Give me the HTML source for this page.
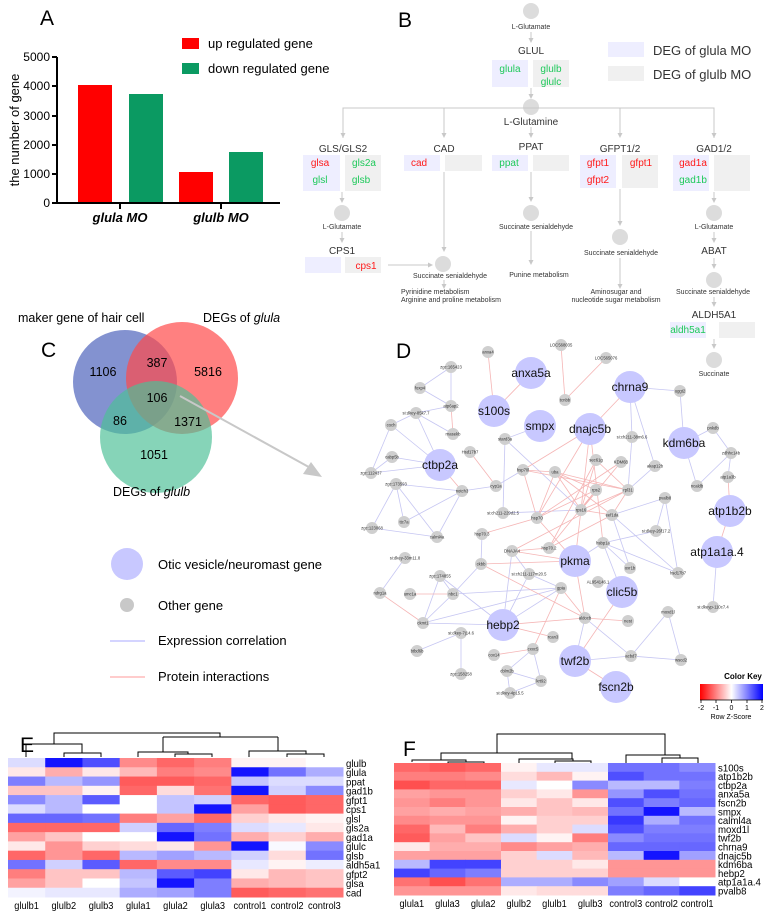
<!DOCTYPE html>
<html><head><meta charset="utf-8">
<style>
html,body{margin:0;padding:0;background:#fff;}
svg{display:block;font-family:"Liberation Sans",Arial,sans-serif;}
</style></head>
<body>
<svg id="s" width="770" height="917" viewBox="0 0 770 917" xmlns="http://www.w3.org/2000/svg">
<defs>
<marker id="ah" markerWidth="6" markerHeight="6" refX="5" refY="3" orient="auto"><path d="M0,0 L6,3 L0,6 z" fill="#c8c8c8"/></marker>
<marker id="ah2" markerWidth="5" markerHeight="5" refX="4" refY="2.5" orient="auto"><path d="M0,0 L5,2.5 L0,5 z" fill="#c8c8c8"/></marker>
<linearGradient id="ck" x1="0" x2="1"><stop offset="0" stop-color="#ff0000"/><stop offset="0.5" stop-color="#ffffff"/><stop offset="1" stop-color="#0000ff"/></linearGradient>
</defs>

<!-- Panel A -->
<text x="40" y="25" font-size="21">A</text>
<rect x="182" y="38" width="17" height="11" fill="#ff0000"/>
<text x="208" y="48" font-size="13">up regulated gene</text>
<rect x="182" y="63" width="17" height="11" fill="#0b9a62"/>
<text x="208" y="73" font-size="13">down regulated gene</text>
<g stroke="#000" stroke-width="2">
<line x1="57" y1="57" x2="57" y2="204"/>
<line x1="56" y1="203" x2="280" y2="203"/>
<line x1="52" y1="57" x2="57" y2="57"/><line x1="52" y1="86" x2="57" y2="86"/><line x1="52" y1="116" x2="57" y2="116"/><line x1="52" y1="145" x2="57" y2="145"/><line x1="52" y1="174" x2="57" y2="174"/><line x1="52" y1="203" x2="57" y2="203"/>
<line x1="120" y1="203" x2="120" y2="209"/><line x1="221" y1="203" x2="221" y2="209"/>
</g>
<g font-size="12" text-anchor="end">
<text x="50" y="61">5000</text><text x="50" y="90">4000</text><text x="50" y="120">3000</text><text x="50" y="149">2000</text><text x="50" y="178">1000</text><text x="50" y="207">0</text>
</g>
<text transform="translate(19,130) rotate(-90)" font-size="13" text-anchor="middle">the number of gene</text>
<rect x="78" y="85" width="34" height="117" fill="#ff0000"/>
<rect x="129" y="94" width="34" height="108" fill="#0b9a62"/>
<rect x="179" y="172" width="34" height="30" fill="#ff0000"/>
<rect x="229" y="152" width="34" height="50" fill="#0b9a62"/>
<text x="120" y="222" font-size="13" font-style="italic" font-weight="bold" text-anchor="middle">glula MO</text>
<text x="221" y="222" font-size="13" font-style="italic" font-weight="bold" text-anchor="middle">glulb MO</text>

<!-- Panel B -->
<text x="398" y="27" font-size="21">B</text>
<g id="pb"></g>

<!-- Panel C -->
<text x="18" y="322" font-size="12.5">maker gene of hair cell</text>
<text x="203" y="322" font-size="12.5">DEGs of <tspan font-style="italic">glula</tspan></text>
<text x="41" y="357" font-size="21">C</text>
<circle cx="125" cy="382" r="52" fill="#5a6ec0" fill-opacity="0.75"/>
<circle cx="182" cy="378" r="56" fill="#ff4a4a" fill-opacity="0.7"/>
<circle cx="156" cy="437" r="56" fill="#4cbf96" fill-opacity="0.68"/>
<g font-size="12.5" text-anchor="middle">
<text x="103" y="376">1106</text><text x="157" y="367">387</text><text x="208" y="376">5816</text>
<text x="157" y="402">106</text><text x="120" y="425">86</text><text x="188" y="426">1371</text><text x="154" y="459">1051</text>
</g>
<text x="113" y="496" font-size="12.5">DEGs of <tspan font-style="italic">glulb</tspan></text>
<line x1="180" y1="396" x2="316" y2="471" stroke="#c8c8c8" stroke-width="2"/>
<path d="M303,474 L322,477 L311,462 z" fill="#c8c8c8"/>
<circle cx="127" cy="564" r="16" fill="#c8c8ff"/>
<text x="158" y="569" font-size="13">Otic vesicle/neuromast gene</text>
<circle cx="127" cy="605" r="7" fill="#c8c8c8"/>
<text x="158" y="610" font-size="13">Other gene</text>
<line x1="110" y1="641" x2="145" y2="641" stroke="#a8a8ff" stroke-width="1"/>
<text x="158" y="645" font-size="13">Expression correlation</text>
<line x1="110" y1="677" x2="145" y2="677" stroke="#ff9a9a" stroke-width="1"/>
<text x="158" y="681" font-size="13">Protein interactions</text>

<!-- Panel D -->
<text x="396" y="358" font-size="21">D</text>
<g id="net"></g>
<text x="743" y="679" font-size="8" font-weight="bold" text-anchor="middle">Color Key</text>
<rect x="700" y="684" width="63" height="16" fill="url(#ck)"/>
<g stroke="#000" stroke-width="0.8"><line x1="700" y1="700" x2="763" y2="700"/><line x1="701" y1="700" x2="701" y2="703"/><line x1="716" y1="700" x2="716" y2="703"/><line x1="731.5" y1="700" x2="731.5" y2="703"/><line x1="747" y1="700" x2="747" y2="703"/><line x1="762" y1="700" x2="762" y2="703"/></g>
<g font-size="7" text-anchor="middle"><text x="701" y="710">-2</text><text x="716" y="710">-1</text><text x="731.5" y="710">0</text><text x="747" y="710">1</text><text x="762" y="710">2</text></g>
<text x="731" y="719" font-size="7" text-anchor="middle">Row Z-Score</text>

<!-- Panel E / F -->
<text x="20" y="752" font-size="21">E</text>
<text x="403" y="756" font-size="21">F</text>
<g id="hm"></g>
</svg>
<script>
var NS="http://www.w3.org/2000/svg";
function el(p,t,a,txt){var e=document.createElementNS(NS,t);for(var k in a)e.setAttribute(k,a[k]);if(txt!=null)e.textContent=txt;p.appendChild(e);return e;}
var pb=document.getElementById('pb');
var G="#1ec95a",R="#ff1a1a",BL="#eeeeff",GR="#f0f0f0",LC="#c8c8c8";
function circ(x,y,r){el(pb,'circle',{cx:x,cy:y,r:r||8,fill:"#dcdcdc"});}
function t(x,y,s,sz,col,anc){el(pb,'text',{x:x,y:y,'font-size':sz,fill:col||"#333",'text-anchor':anc||'middle'},s);}
function arr(x,y1,y2){el(pb,'line',{x1:x,y1:y1,x2:x,y2:y2,stroke:LC,'stroke-width':1,'marker-end':'url(#ah2)'});}
function bx(x,y,w,h,c){el(pb,'rect',{x:x,y:y,width:w,height:h,fill:c});}
circ(531,11);t(531,29,"L-Glutamate",7);arr(531,32,42);t(531,54,"GLUL",10);
bx(492,60,36,27,BL);bx(533,60,36,27,GR);t(510,72,"glula",10,G);t(551,72,"glulb",10,G);t(551,85,"glulc",10,G);
arr(531,88,98);
bx(608,42,36,15,BL);bx(608,66,36,15,GR);t(653,55,"DEG of glula MO",13,"#333","start");t(653,79,"DEG of glulb MO",13,"#333","start");
circ(531,107);t(531,125,"L-Glutamine",10);
el(pb,'polyline',{points:"343,138 343,108 714,108 714,138",fill:"none",stroke:LC,'stroke-width':1});
[[343],[444],[620]].forEach(function(a){arr(a[0],108,137);});arr(714,108,137);arr(531,127,137);
t(343,152,"GLS/GLS2",10);t(444,152,"CAD",10);t(531,150,"PPAT",10);t(620,152,"GFPT1/2",10);t(714,152,"GAD1/2",10);
bx(303,155,37,36,BL);bx(345,155,36,36,GR);t(320,166,"glsa",10,R);t(320,183,"glsl",10,G);t(364,166,"gls2a",10,G);t(361,183,"glsb",10,G);
bx(404,155,36,16,BL);bx(445,155,37,16,GR);t(419,166,"cad",10,R);
bx(492,155,36,16,BL);bx(533,155,36,16,GR);t(509,166,"ppat",10,G);
bx(580,155,36,33,BL);bx(622,155,36,33,GR);t(598,166,"gfpt1",10,R);t(598,183,"gfpt2",10,R);t(641,166,"gfpt1",10,R);
bx(673,155,36,36,BL);bx(714,155,36,36,GR);t(693,166,"gad1a",10,R);t(693,183,"gad1b",10,G);
arr(342,192,202);circ(342,213);t(342,229,"L-Glutamate",7);arr(342,232,242);t(342,254,"CPS1",10);
bx(305,257,36,16,BL);bx(345,257,36,16,GR);t(366,269,"cps1",10,R);
el(pb,'line',{x1:388,y1:265,x2:432,y2:265,stroke:LC,'stroke-width':1,'marker-end':'url(#ah2)'});
el(pb,'line',{x1:444,y1:172,x2:444,y2:251,stroke:LC,'stroke-width':1,'marker-end':'url(#ah2)'});
circ(443,264);t(450,278,"Succinate senialdehyde",7);arr(444,280,288);
t(401,294,"Pyrinidine metabolism",7,"#333","start");t(401,302,"Arginine and proline metabolism",7,"#333","start");
el(pb,'line',{x1:531,y1:172,x2:531,y2:201,stroke:LC,'stroke-width':1,'marker-end':'url(#ah2)'});
circ(531,213);t(536,229,"Succinate senialdehyde",7);
el(pb,'line',{x1:531,y1:231,x2:531,y2:264,stroke:LC,'stroke-width':1,'marker-end':'url(#ah2)'});
t(539,277,"Punine metabolism",7);
el(pb,'line',{x1:620,y1:189,x2:620,y2:225,stroke:LC,'stroke-width':1,'marker-end':'url(#ah2)'});
circ(620,237);t(621,255,"Succinate senialdehyde",7);
el(pb,'line',{x1:620,y1:258,x2:620,y2:288,stroke:LC,'stroke-width':1,'marker-end':'url(#ah2)'});
t(616,294,"Aminosugar   and",7);t(616,302,"nucleotide sugar metabolism",7);
arr(714,192,202);circ(714,213);t(714,229,"L-Glutamate",7);arr(714,232,242);t(714,254,"ABAT",10);arr(714,258,268);
circ(714,280);t(713,294,"Succinate senialdehyde",7);arr(714,297,306);t(714,318,"ALDH5A1",10);
bx(670,322,36,16,BL);bx(719,322,36,16,GR);t(688,333,"aldh5a1",10,G);
arr(714,339,348);circ(714,360);t(714,376,"Succinate",7);

var net=document.getElementById('net');
var N={
"anxa5a":[531,373,1],"s100s":[494,411,1],"smpx":[540,426,1],"dnajc5b":[590,429,1],"chrna9":[630,387,1],"kdm6ba":[684,443,1],"ctbp2a":[440,465,1],"atp1b2b":[730,511,1],"atp1a1a.4":[717,552,1],"pkma":[575,561,1],"clic5b":[622,592,1],"hebp2":[503,625,1],"twf2b":[575,661,1],"fscn2b":[616,687,1],
"anxa4":[488,352],"LOC568035":[561,345],"LOC565076":[606,358],"zgc:165423":[451,367],"foxp4":[420,388],"atp6ap2":[451,406],"tcnbb":[565,400],"uggt2":[680,391],"si:dkey-85k7.7":[416,413],"coch":[391,425],"rnasekb":[453,434],"stard3a":[505,439],"si:ch211-38m6.6":[632,437],"pnkdb":[713,428],"cabp5b":[392,457],"Hsd17b7":[470,452],"zdhhc14b":[731,453],"sec61g":[596,460],"KDM6B":[621,462],"akap12b":[655,466],"zgc:112437":[371,473],"hsp70l":[523,470],"uba":[555,472],"atp1a3b":[728,477],"zgc:173593":[396,484],"notch3":[462,491],"cyp1a":[496,486],"rps2":[596,490],"rpl31":[628,490],"ncaldb":[697,486],"pvalb8":[665,498],"rps16":[581,510],"eef1da":[612,515],"si:ch211-229d2.5":[503,513],"hsp70":[537,518],"zgc:123068":[372,528],"ttc7a":[404,522],"si:dkey-26f17.2":[656,531],
"calml4a":[437,537],"hsp70.3":[482,534],"DNAJA4":[512,551],"hsp70.2":[549,548],"hsbp1a":[603,543],"si:dkey-33m11.8":[405,558],"ckbb":[481,564],"oxr1b":[630,568],"hsd17b7":[678,573],"zgc:174855":[440,576],"si:ch211-117m20.5":[529,574],"AL954146.1":[598,582],"gpia":[561,588],"ndrg1a":[380,593],"umc1a":[410,594],"nbc1":[453,594],"si:dkeyp-110c7.4":[713,607],"moxd1l":[668,612],"ckmt1":[423,623],"aldocb":[585,618],"nest":[628,621],"si:dkey-7j14.6":[461,633],"rcan3":[553,637],"btbd6b":[417,651],"cox14":[494,655],"cxxc5":[533,649],"acbd7":[631,656],"wscd2":[681,660],"zgc:158258":[461,674],"cblm2b":[507,671],"krt92":[541,681],"si:dkey-4p15.5":[510,693]};
var B="zgc:165423-foxp4 zgc:165423-atp6ap2 foxp4-atp6ap2 atp6ap2-si:dkey-85k7.7 si:dkey-85k7.7-coch si:dkey-85k7.7-ctbp2a si:dkey-85k7.7-rnasekb coch-ctbp2a coch-zgc:112437 cabp5b-zgc:112437 cabp5b-ctbp2a zgc:112437-ctbp2a zgc:173593-notch3 zgc:173593-zgc:123068 zgc:173593-ttc7a zgc:173593-calml4a notch3-cyp1a notch3-ttc7a notch3-calml4a zgc:123068-calml4a cyp1a-hsp70l smpx-stard3a stard3a-si:ch211-229d2.5 stard3a-rps16 chrna9-uggt2 chrna9-si:ch211-38m6.6 chrna9-akap12b uggt2-kdm6ba kdm6ba-pnkdb pnkdb-zdhhc14b zdhhc14b-atp1a3b kdm6ba-ncaldb zdhhc14b-ncaldb atp1a1a.4-si:dkeyp-110c7.4 si:ch211-38m6.6-rpl31 akap12b-rpl31 pvalb8-eef1da pvalb8-hsd17b7 pvalb8-si:dkey-26f17.2 si:dkey-26f17.2-hsbp1a hsbp1a-oxr1b hsbp1a-hsd17b7 hsbp1a-clic5b pkma-hsbp1a DNAJA4-hebp2 hsp70.3-ckbb ckbb-nbc1 zgc:174855-ckmt1 zgc:174855-nbc1 zgc:174855-hebp2 si:ch211-117m20.5-hebp2 si:ch211-117m20.5-gpia gpia-nbc1 gpia-ckmt1 si:dkey-33m11.8-ndrg1a nbc1-ckmt1 ckmt1-hebp2 aldocb-twf2b aldocb-acbd7 twf2b-acbd7 acbd7-wscd2 moxd1l-acbd7 moxd1l-wscd2 si:dkey-7j14.6-btbd6b si:dkey-7j14.6-zgc:158258 cxxc5-cblm2b cxxc5-krt92 cblm2b-krt92 cblm2b-si:dkey-4p15.5 krt92-si:dkey-4p15.5 si:ch211-229d2.5-rps16 eef1da-hsd17b7 DNAJA4-si:ch211-117m20.5 gpia-hebp2 eef1da-oxr1b";
var Rd="atp6ap2-rnasekb ctbp2a-notch3 Hsd17b7-cyp1a anxa4-s100s s100s-anxa5a LOC568035-tcnbb LOC565076-tcnbb dnajc5b-hsp70l chrna9-dnajc5b atp1a3b-atp1b2b atp1b2b-atp1a1a.4 hsp70l-uba hsp70l-rpl31 uba-rps2 uba-rpl31 uba-rps16 sec61g-rps16 KDM6B-hsp70 rps2-rps16 rpl31-rps16 hsp70-rps2 hsp70-uba dnajc5b-hsp70 dnajc5b-rps16 dnajc5b-hsbp1a sec61g-hsp70.2 rpl31-DNAJA4 rps2-hsp70.2 hsp70l-hsp70 uba-eef1da rps16-eef1da eef1da-rpl31 eef1da-hsp70.2 pkma-DNAJA4 hsp70.2-DNAJA4 ckbb-pkma ckbb-aldocb gpia-cxxc5 gpia-aldocb ndrg1a-ckmt1 umc1a-nbc1 hebp2-aldocb hebp2-rcan3 aldocb-nest clic5b-twf2b pkma-aldocb twf2b-fscn2b cox14-cxxc5 hsp70.3-hsp70 sec61g-rpl31 KDM6B-rps16 rps16-pkma hsp70-pkma";
function edges(s,c){s.split(' ').forEach(function(p){
 for(var j=1;j<p.length;j++){if(p[j]=='-'&&N[p.slice(0,j)]&&N[p.slice(j+1)]){var a=N[p.slice(0,j)],b=N[p.slice(j+1)];el(net,'line',{x1:a[0],y1:a[1],x2:b[0],y2:b[1],stroke:c,'stroke-width':0.8});break;}}});}
edges(B,"#c6c6f2");edges(Rd,"#f5b5b5");
for(var k in N){var n=N[k];if(n[2]){el(net,'circle',{cx:n[0],cy:n[1],r:16,fill:"#c8c8ff"});el(net,'text',{x:n[0],y:n[1]+4,'font-size':12,'text-anchor':'middle',fill:'#111'},k);}
 else{el(net,'circle',{cx:n[0],cy:n[1],r:6,fill:"#cfcfcf"});el(net,'text',{x:n[0],y:n[1]+1.5,'font-size':4.2,'text-anchor':'middle',fill:'#333'},k);}}

var hm=document.getElementById('hm');
function col(v){v=v*0.92;if(v<0){var f=Math.max(0,1+v/2);var g=Math.round(255*f);return "rgb(255,"+g+","+g+")";}var f=Math.max(0,1-v/2);var g=Math.round(255*f);return "rgb("+g+","+g+",255)";}
var E={rows:["glulb","glula","ppat","gad1b","gfpt1","cps1","glsl","gls2a","gad1a","glulc","glsb","aldh5a1","gfpt2","glsa","cad"],
v:[[0.3,2,1.5,-1,-1.3,-1.1,-0.1,-0.1,0],[-0.2,-0.7,-0.2,-0.6,-1.1,-1,2,1.2,0.7],[1.1,0.6,0.9,-1.4,-1.4,-1.3,0.5,0.3,0.3],[-0.5,-0.5,-0.1,-1.3,-0.3,-1.2,2,0.4,1],[1,0.6,1.4,0,0.5,0.4,-1.3,-1.4,-1.3],[0.3,0.6,0,0,0.5,2,-0.8,-1.4,-1.3],[1.3,1.3,1.2,-1.1,-0.8,-1.3,-0.4,-0.2,-0.1],[-1.3,-1.3,-1.3,0.4,1.3,1.1,0.3,0.2,-0.2],[-0.8,-0.5,0,0,2,1.2,-0.7,-0.4,-0.7],[-0.2,-0.9,-0.4,-0.3,-0.2,-0.9,2,0.05,1],[-1.3,-0.9,-1.3,0.6,0.8,0.6,0.4,-0.3,1.2],[1.2,0.4,1.4,-1.3,-1,-1,0.2,-0.1,0.15],[-1.1,-0.5,-0.5,0.6,1.4,1.6,-0.2,-0.6,-0.5],[-0.8,-0.5,0,0.5,2,1.1,-0.7,-0.6,-0.5],[0.1,0.2,0.2,0.7,0.8,1.1,-1.4,-1.3,-1.2]],
cols:["glulb1","glulb2","glulb3","glula1","glula2","glula3","control1","control2","control3"],x0:8,x1:343,y0:758,y1:897,ly:909};
var F={rows:["s100s","atp1b2b","ctbp2a","anxa5a","fscn2b","smpx","calml4a","moxd1l","twf2b","chrna9","dnajc5b","kdm6ba","hebp2","atp1a1a.4","pvalb8"],
v:[[-1.3,-1.4,-1.3,-0.1,0.2,0.2,1.2,1.2,1],[-1.1,-1.1,-1,-0.3,-0.6,-0.1,1.5,1.2,1.2],[-1.5,-1.3,-1.3,0.2,0,1,0.6,0.6,1.1],[-0.8,-0.9,-0.9,-0.4,-0.2,-0.9,0.9,1.5,1.2],[-0.9,-1.1,-0.9,-0.2,-0.5,-0.2,1.5,1.1,1.3],[-0.8,-0.7,-0.8,-0.7,-0.5,-0.6,1.2,2,0.6],[-1,-0.9,-0.9,-0.1,-0.4,-0.4,1.7,0.7,1.2],[-1.3,-0.6,-1.1,-0.7,-0.4,0.3,1.5,1.1,1.1],[-1.4,-0.8,-0.5,0.3,-0.1,-1.1,1,1.2,1.2],[-0.2,-0.7,-0.7,-1,-0.8,-0.7,1.3,1.3,1.3],[-0.8,-0.8,-0.8,-0.4,0.3,-0.6,0.6,2,0.8],[0.6,1.6,1.6,-0.4,-0.4,-0.2,-0.9,-0.9,-0.9],[1.6,1.3,1.1,-0.4,-0.4,-0.4,-0.9,-0.9,-0.9],[-1.2,-1.5,-1.2,0.7,0.7,1,0.8,0.3,0],[-0.9,-0.9,-0.9,-0.2,-0.3,-0.3,1.1,1.3,1.6]],
cols:["glula1","glula3","glula2","glulb2","glulb1","glulb3","control3","control2","control1"],x0:394,x1:715,y0:763,y1:895,ly:907};
[E,F].forEach(function(H){var cw=(H.x1-H.x0)/9,rh=(H.y1-H.y0)/15;
 for(var r=0;r<15;r++){for(var c=0;c<9;c++)el(hm,'rect',{x:H.x0+c*cw,y:H.y0+r*rh,width:cw+0.5,height:rh+0.5,fill:col(H.v[r][c])});
  var tx=el(hm,'text',{x:H.x1+3,y:H.y0+r*rh+rh-0.5,'font-size':10.5,transform:'translate('+(H.x1+3)+',0) scale(0.92,1) translate('+(-(H.x1+3))+',0)'},H.rows[r]);}
 for(var c=0;c<9;c++){var cx=H.x0+c*cw+cw/2;el(hm,'text',{x:cx,y:H.ly,'font-size':10.5,'text-anchor':'middle',transform:'translate('+cx+',0) scale(0.88,1) translate('+(-cx)+',0)'},H.cols[c]);}});
function dl(pts){el(hm,'polyline',{points:pts,fill:'none',stroke:'#000','stroke-width':1});}
dl("26,757 26,744 82,744 82,753");dl("64,757 64,753 101,753 101,757");dl("54,744 54,733 220,733 220,737");
dl("163,737 278,737");dl("163,737 163,752");dl("138,757 138,752 188,752 188,754");dl("175,757 175,754 212,754 212,757");
dl("278,737 278,751");dl("249,757 249,751 306,751 306,754");dl("287,757 287,754 324,754 324,757");
dl("497,753 497,734 665,734 665,755");dl("441,760 441,753 572,753 572,759");
dl("412,762 412,760 466,760 466,762");dl("448,763 448,762 484,762 484,763");
dl("519,763 519,759 573,759 573,761");dl("555,763 555,761 591,761 591,763");
dl("626,763 626,755 680,755 680,758");dl("662,763 662,758 698,758 698,763");
</script>
</body></html>
